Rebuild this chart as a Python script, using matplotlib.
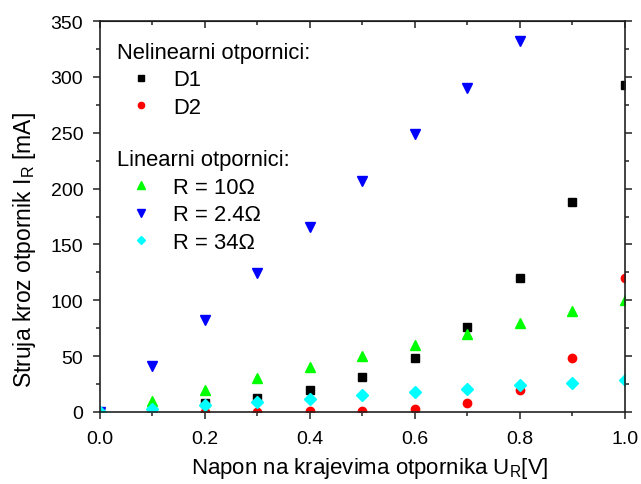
import matplotlib
matplotlib.use('Agg')
import matplotlib.pyplot as plt
from matplotlib.ticker import MultipleLocator

plt.rcParams['font.family'] = ['Liberation Sans', 'DejaVu Sans']
plt.rcParams['mathtext.fontset'] = 'custom'
plt.rcParams['mathtext.rm'] = 'Liberation Sans'

# napon [V]
U = [0.0, 0.1, 0.2, 0.3, 0.4, 0.5, 0.6, 0.7, 0.8, 0.9, 1.0]

# struja [mA]
D1 = [0, 2, 8, 12.5, 20, 31, 48.5, 76, 120, 188, 293]
D2 = [0, 0.5, 0.3, 0.3, 0.5, 1, 3, 8, 20, 48.5, 120]
R10 = [0, 10, 20, 30, 40, 50, 60, 70, 80, 90, 100]
R24 = [0, 41, 82, 124, 166, 207, 249, 290, 332, 375, 416]
R34 = [0, 3, 6, 9, 12, 15, 18, 21, 24, 26, 29]

fig = plt.figure(figsize=(6.41, 4.85), dpi=100)
ax = fig.add_axes([0.156, 0.1485, 0.819, 0.806])

h1, = ax.plot(U, D1, 's', color='black', ms=5.8, ls='none', label='D1')
h2, = ax.plot(U, D2, 'o', color='#ff0000', ms=6, ls='none', label='D2')
h3, = ax.plot(U, R10, '^', color='#00ff00', ms=7.5, ls='none', label='R = 10\u03a9')
h4, = ax.plot(U, R24, 'v', color='#0000ff', ms=7.5, ls='none', label='R = 2.4\u03a9')
h5, = ax.plot(U, R34, 'D', color='#00ffff', ms=5.8, ls='none', label='R = 34\u03a9')

ax.set_xlim(0, 1.0)
ax.set_ylim(0, 350)
ax.xaxis.set_major_locator(MultipleLocator(0.2))
ax.xaxis.set_minor_locator(MultipleLocator(0.1))
ax.yaxis.set_major_locator(MultipleLocator(50))
ax.yaxis.set_minor_locator(MultipleLocator(25))
ax.tick_params(which='both', right=True, labelsize=14, width=1.1, color='#222222')
ax.tick_params(axis='y', which='both', pad=7)
ax.tick_params(axis='x', which='both', pad=8)
ax.tick_params(which='major', length=5)
ax.tick_params(which='minor', length=3)
for s in ax.spines.values():
    s.set_linewidth(1.2)
    s.set_color('#222222')

# gornja osa - crtice prema unutra
top = ax.secondary_xaxis('top')
top.xaxis.set_major_locator(MultipleLocator(0.2))
top.xaxis.set_minor_locator(MultipleLocator(0.1))
top.tick_params(which='both', direction='in', labeltop=False, width=1.1, color='#222222')
top.tick_params(which='major', length=5)
top.tick_params(which='minor', length=3)

ax.set_xlabel('Napon na krajevima otpornika U$_\\mathregular{R}$[V]', fontsize=16)
ax.xaxis.set_label_coords(0.513, -0.11)
ax.set_ylabel('Struja kroz otpornik I$_\\mathregular{R}$ [mA]', fontsize=16.5)
ax.yaxis.set_label_coords(-0.118, 0.417)

leg_kw = dict(loc='upper left', frameon=False, fontsize=15.8, title_fontsize=15.8,
              markerscale=0.75, handlelength=2.2, handletextpad=0.35,
              labelspacing=0.3, alignment='left', borderpad=0, borderaxespad=0)
leg1 = ax.legend(handles=[h1, h2], title='Nelinearni otpornici:',
                 bbox_to_anchor=(0.032, 0.947), **leg_kw)
ax.add_artist(leg1)
ax.legend(handles=[h3, h4, h5], title='Linearni otpornici:',
          bbox_to_anchor=(0.032, 0.672), **leg_kw)

fig.savefig('out.png', dpi=100)
